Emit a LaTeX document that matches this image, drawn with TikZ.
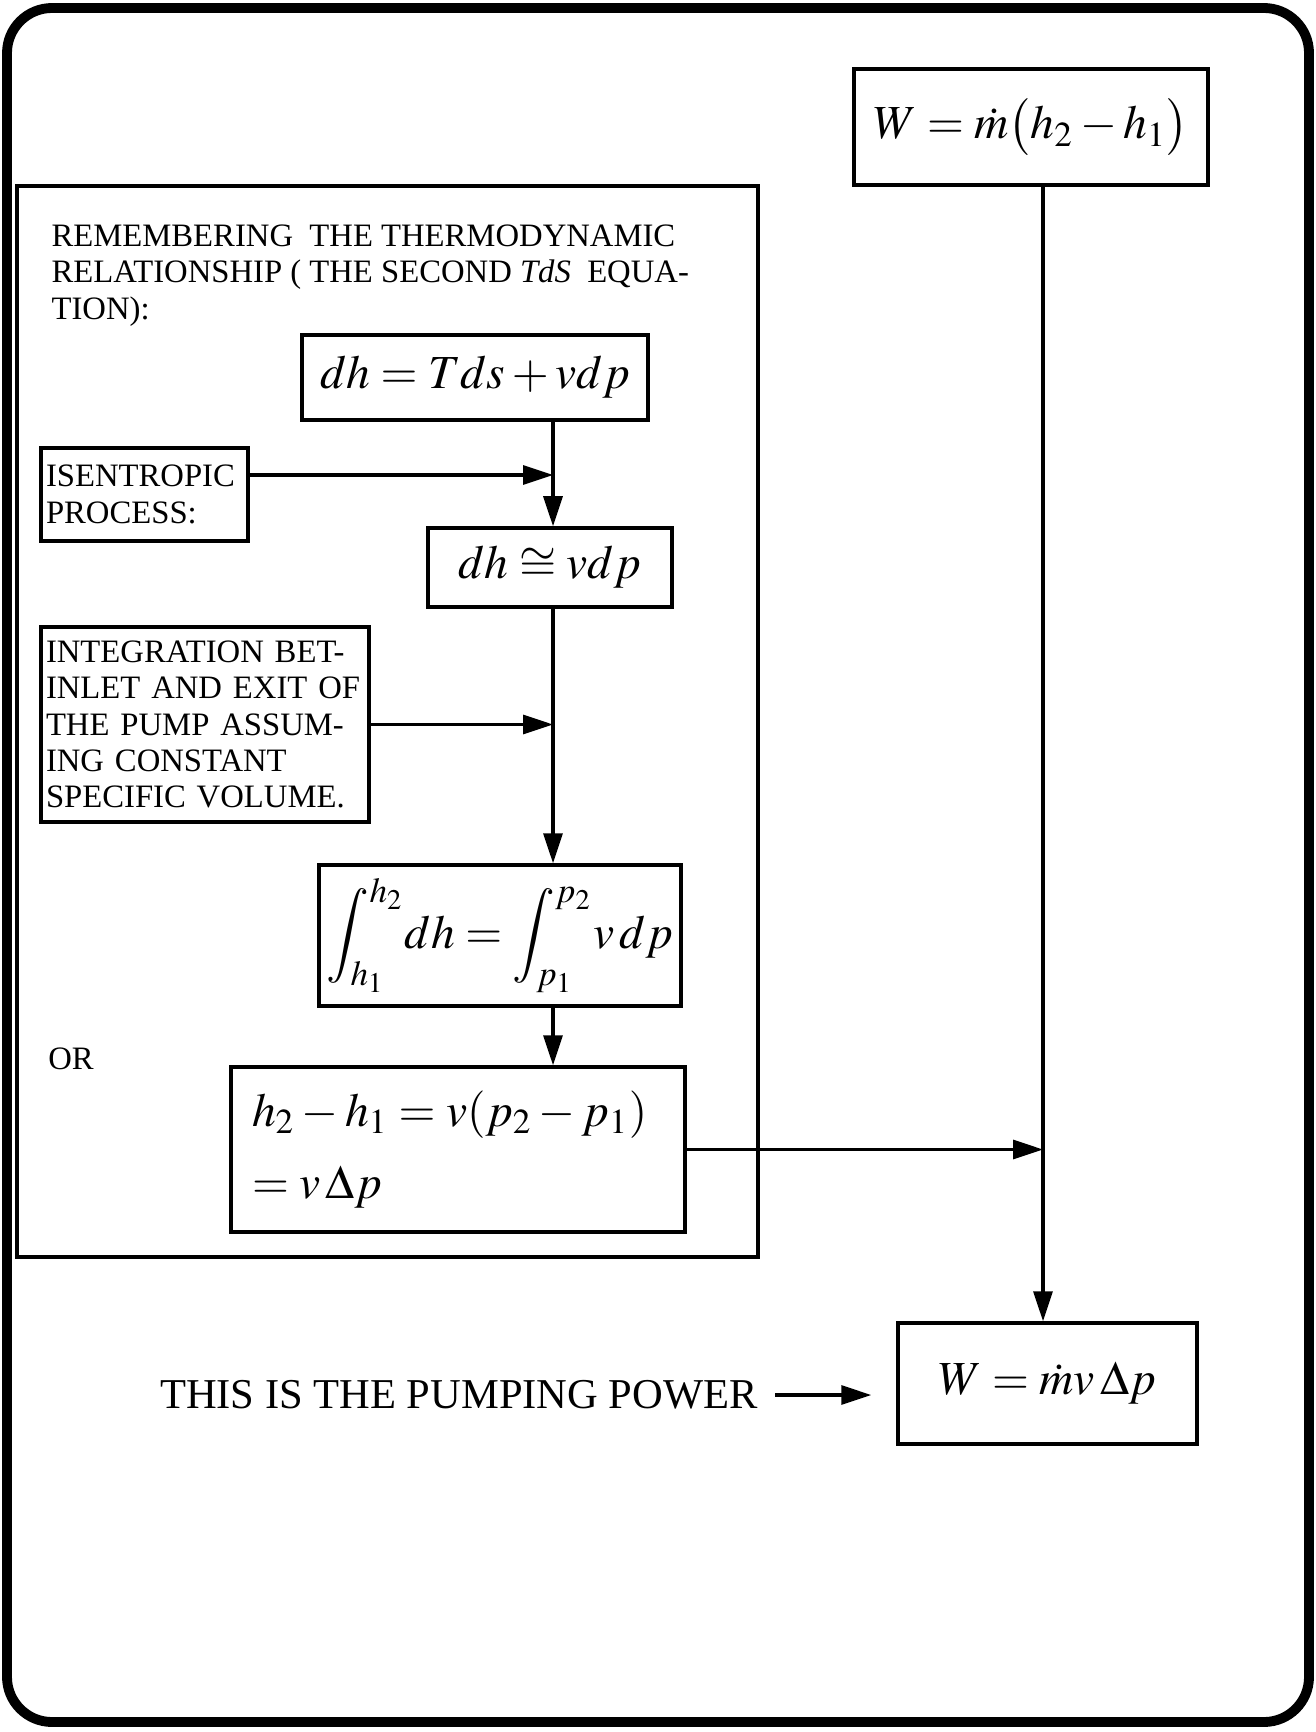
\documentclass[tikz,border=0pt]{standalone}
\usepackage{mathptmx}
\usepackage[no-math]{fontspec}
\setmainfont{Liberation Serif}
\usetikzlibrary{positioning, arrows.meta, calc}

\begin{document}
\begin{tikzpicture}[
  x=1cm, y=1cm,
  line width=0.9pt, line join=miter,
  >={Triangle[length=3mm, width=1.9mm]},
  eqbox/.style = {draw, line width=1pt, inner sep=0pt, anchor=center,
                  font=\fontsize{13.5}{20.5}\selectfont},
  notebox/.style = {draw, line width=1pt, inner xsep=0.5mm, inner ysep=0pt,
                  align=left, anchor=center, font=\fontsize{9.3}{10.3}\selectfont},
  note/.style = {inner sep=0pt, align=left, font=\fontsize{9.3}{10.4}\selectfont},
  flow/.style = {->, line width=0.9pt}
]

\useasboundingbox (0,0) rectangle (13.15,-17.32);
\draw[line width=2.8pt, rounded corners=0.45cm] (0.07,-0.08) rectangle (13.09,-17.22);

\node[draw, line width=1pt, minimum width=7.41cm, minimum height=10.71cm,
      inner sep=0pt] (frame) at (3.875,-7.215) {};

% equations
\node[eqbox, minimum width=3.54cm, minimum height=1.16cm] (W1) at (10.31,-1.27)
  {$W=\dot m\bigl(h_2-h_1\bigr)$};
\node[eqbox, minimum width=3.46cm, minimum height=0.85cm] (dh) at (4.75,-3.775)
  {$dh=Tds+vdp$};
\node[eqbox, minimum width=2.44cm, minimum height=0.79cm] (dhv) at (5.50,-5.675)
  {$dh\cong vdp$};
\node[eqbox, minimum width=3.62cm, minimum height=1.41cm] (integ) at (5.00,-9.355)
  {$\displaystyle\int_{h_1}^{h_2}\! dh=\int_{p_1}^{p_2}\! v\,dp$};
\node[eqbox, minimum width=4.54cm, minimum height=1.65cm, inner xsep=0.21cm,
      text width=4.12cm, align=left] (diff) at (4.58,-11.495)
  {\mbox{$h_2-h_1=v(p_2-p_1)$}\\\mbox{$=v\,\Delta p$}};
\node[eqbox, minimum width=2.99cm, minimum height=1.21cm] (W2) at (10.475,-13.835)
  {$W=\dot m v\,\Delta p$};

% notes
\node[note, anchor=north west] (intro) at (0.50,-2.23)
  {REMEMBERING\ \ THE THERMODYNAMIC\\RELATIONSHIP ( THE SECOND \textit{TdS}\ \ EQUA-\\TION):};
\node[notebox, minimum width=2.07cm, minimum height=0.93cm, text width=1.97cm] (isen)
  at (1.445,-4.945) {ISENTROPIC\\PROCESS:};
\node[notebox, minimum width=3.28cm, minimum height=1.95cm, text width=3.18cm] (integr)
  at (2.05,-7.245) {\mbox{INTEGRATION BET-}\\\mbox{INLET AND EXIT OF}\\\mbox{THE PUMP ASSUM-}\\\mbox{ING CONSTANT}\\\mbox{SPECIFIC VOLUME.}};
\node[note] (or) at (0.71,-10.59) {OR};
\node[inner sep=0pt, font=\fontsize{12.1}{13}\selectfont] (pow) at (4.59,-13.95)
  {THIS IS THE PUMPING POWER};

% connectors
\coordinate (spine) at (5.53,0);
\coordinate (rail) at (10.43,0);
\draw[flow] (dh.south -| spine) -- (dhv.north -| spine);
\draw[flow] ([yshift=0.195cm]isen.east) -- ([yshift=0.195cm]isen.east -| spine);
\draw[flow] (dhv.south -| spine) -- (integ.north -| spine);
\draw[flow] (integr.east) -- (integr.east -| spine);
\draw[flow] (integ.south -| spine) -- (diff.north -| spine);
\draw[flow] (W1.south -| rail) -- (W2.north -| rail);
\draw[flow] (diff.east) -- (diff.east -| rail);
\draw[flow, shorten <=1.6mm, shorten >=2.5mm] (pow.east) -- (pow.east -| W2.west);

\end{tikzpicture}
\end{document}
